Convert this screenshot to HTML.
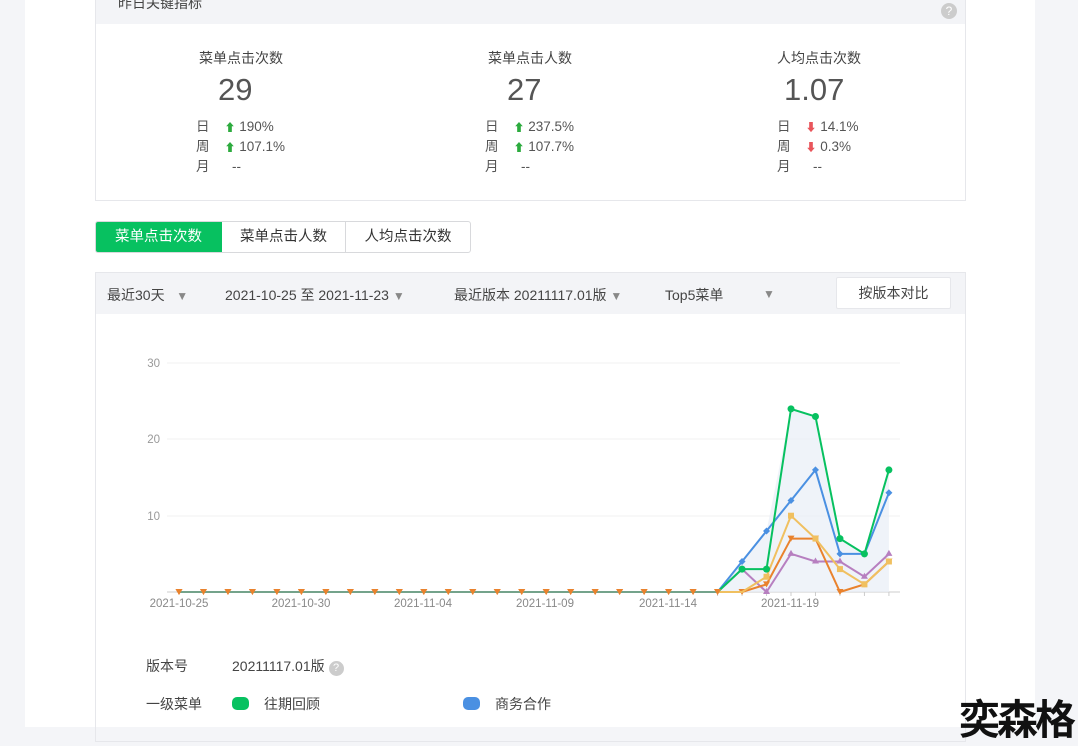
<!DOCTYPE html>
<html><head><meta charset="utf-8">
<style>
*{margin:0;padding:0;box-sizing:border-box}
body{width:1078px;height:727px;overflow:hidden;background:#f4f5f8;font-family:"Liberation Sans","Noto Sans CJK SC",sans-serif;color:#333;position:relative}
.main{position:absolute;left:25px;top:0;width:1010px;height:727px;background:#fff}
.abs{position:absolute;white-space:nowrap}
.card{position:absolute;left:95px;top:-2px;width:871px;height:203px;border:1px solid #e6e7eb}
.card .hd{height:25px;background:#f3f4f7}
.t{font-size:14px;color:#444}
.big{font-size:31px;color:#555}
.s{font-size:13.5px;color:#555;line-height:20px;height:20px}
.up{color:#2cab3e;font-size:11px}
.dn{color:#e9555b;font-size:11px}
.tabs{position:absolute;left:95px;top:221px;height:32px;border:1px solid #d8d9dc;border-radius:3px;display:flex;font-size:14.5px;overflow:hidden}
.tabs div{height:30px;line-height:30px;text-align:center;border-right:1px solid #d8d9dc;color:#333}
.panel{position:absolute;left:95px;top:272px;width:871px;height:470px;border:1px solid #e6e7eb}
.bar{height:41px;background:#f3f4f7;font-size:14px;color:#444;position:relative}
.tri{color:#888;font-size:12px}
</style></head><body>
<div class="main"></div>
<div class="card"><div class="hd"><span class="abs" style="left:22px;top:-6px;font-size:14px;color:#444">昨日关键指标</span><span class="abs" style="right:8px;top:4px;width:16px;height:16px;border-radius:8px;background:#ccc;color:#fff;font-size:12px;text-align:center;line-height:16px">?</span></div></div>
<div class="abs t" style="left:199px;top:48px">菜单点击次数</div>
<div class="abs big" style="left:218px;top:72px">29</div>
<div class="abs s" style="left:196px;top:117px">日&nbsp;&nbsp;&nbsp;&nbsp;<span class="up">⬆</span> 190%</div>
<div class="abs s" style="left:196px;top:137px">周&nbsp;&nbsp;&nbsp;&nbsp;<span class="up">⬆</span> 107.1%</div>
<div class="abs s" style="left:196px;top:157px">月&nbsp;&nbsp;&nbsp;&nbsp;&nbsp;&nbsp;--</div>
<div class="abs t" style="left:488px;top:48px">菜单点击人数</div>
<div class="abs big" style="left:507px;top:72px">27</div>
<div class="abs s" style="left:485px;top:117px">日&nbsp;&nbsp;&nbsp;&nbsp;<span class="up">⬆</span> 237.5%</div>
<div class="abs s" style="left:485px;top:137px">周&nbsp;&nbsp;&nbsp;&nbsp;<span class="up">⬆</span> 107.7%</div>
<div class="abs s" style="left:485px;top:157px">月&nbsp;&nbsp;&nbsp;&nbsp;&nbsp;&nbsp;--</div>
<div class="abs t" style="left:777px;top:48px">人均点击次数</div>
<div class="abs big" style="left:784px;top:72px">1.07</div>
<div class="abs s" style="left:777px;top:117px">日&nbsp;&nbsp;&nbsp;&nbsp;<span class="dn">⬇</span> 14.1%</div>
<div class="abs s" style="left:777px;top:137px">周&nbsp;&nbsp;&nbsp;&nbsp;<span class="dn">⬇</span> 0.3%</div>
<div class="abs s" style="left:777px;top:157px">月&nbsp;&nbsp;&nbsp;&nbsp;&nbsp;&nbsp;--</div>
<div class="tabs"><div style="width:126px;background:#07c160;color:#fff;border-color:#07c160">菜单点击次数</div><div style="width:124px">菜单点击人数</div><div style="width:124px;border:none">人均点击次数</div></div>
<div class="panel"><div class="bar">
<span class="abs" style="left:11px;top:12px">最近30天 &nbsp;&nbsp;<span class="tri">▼</span></span>
<span class="abs" style="left:129px;top:12px">2021-10-25 至 2021-11-23 <span class="tri">▼</span></span>
<span class="abs" style="left:358px;top:12px">最近版本 20211117.01版 <span class="tri">▼</span></span>
<span class="abs" style="left:569px;top:12px">Top5菜单</span><span class="abs tri" style="left:667px;top:14px">▼</span>
<span class="abs" style="left:740px;top:4px;width:115px;height:32px;background:#fff;border:1px solid #e6e7eb;border-radius:2px;text-align:center;line-height:30px">按版本对比</span>
</div></div>
<svg class="abs" style="left:0;top:0" width="1078" height="727" id="ch">
<g font-size="11.5" fill="#999" font-family="Liberation Sans,sans-serif">
<text x="160" y="367" text-anchor="end">30</text><text x="160" y="443" text-anchor="end">20</text><text x="160" y="520" text-anchor="end">10</text>
<g text-anchor="middle" fill="#888"><text x="179" y="607">2021-10-25</text><text x="301" y="607">2021-10-30</text><text x="423" y="607">2021-11-04</text><text x="545" y="607">2021-11-09</text><text x="668" y="607">2021-11-14</text><text x="790" y="607">2021-11-19</text></g>
</g>
</svg>
<div class="abs" style="left:146px;top:656px;font-size:14px;color:#444">版本号</div>
<div class="abs" style="left:232px;top:656px;font-size:14px;color:#444">20211117.01版 <span style="display:inline-block;width:15px;height:15px;border-radius:8px;background:#ccc;color:#fff;font-size:11px;text-align:center;line-height:15px">?</span></div>
<div class="abs" style="left:146px;top:694px;font-size:14px;color:#444">一级菜单</div>
<div class="abs" style="left:232px;top:697px;width:17px;height:13px;border-radius:5px;background:#07c160"></div>
<div class="abs" style="left:264px;top:694px;font-size:14px;color:#444">往期回顾</div>
<div class="abs" style="left:463px;top:697px;width:17px;height:13px;border-radius:5px;background:#4a90e2"></div>
<div class="abs" style="left:495px;top:694px;font-size:14px;color:#444">商务合作</div>
<div class="abs" style="left:959px;top:686px;font-size:41px;font-weight:bold;color:#111;letter-spacing:-3px">奕森格</div>
<script>
var s=document.getElementById('ch'),NS='http://www.w3.org/2000/svg';
function el(n,a){var e=document.createElementNS(NS,n);for(var k in a)e.setAttribute(k,a[k]);s.appendChild(e);return e}
[363,439,516].forEach(function(y){el('line',{x1:167,x2:900,y1:y,y2:y,stroke:'#f0f0f0'})});
el('line',{x1:167,x2:900,y1:592,y2:592,stroke:'#ccc'});
function X(i){return 179+24.48*i}function Y(v){return 592-7.63*v}
var tail={g:[3,3,24,23,7,5,16],b:[4,8,12,16,5,5,13],y:[0,2,10,7,3,1,4],o:[0,1,7,7,0,1,4],p:[3,0,5,4,4,2,5]};
function full(a){var r=[];for(var i=0;i<23;i++)r.push(0);return r.concat(a)}
var env=[];for(var i=0;i<7;i++)env.push(Math.max(tail.g[i],tail.b[i]));
var pts='717.6,592 ';env.forEach(function(v,i){pts+=X(23+i)+','+Y(v)+' '});pts+=X(29)+',592';
el('polygon',{points:pts,fill:'#e8eef7',opacity:0.7});
for(i=22;i<30;i++)el('line',{x1:X(i),x2:X(i),y1:592,y2:596,stroke:'#ccc'});
var cols={p:'#b77fc0',o:'#e9822d',y:'#f0c060',b:'#4a90e2',g:'#07c160'};
['p','o','y','b','g'].forEach(function(k){var d=full(tail[k]),p='';d.forEach(function(v,i){p+=X(i)+','+Y(v)+' '});
el('polyline',{points:p,fill:'none',stroke:cols[k],'stroke-width':2});
d.forEach(function(v,i){var x=X(i),y=Y(v);
if(k=='g'&&i>22)el('circle',{cx:x,cy:y,r:3.5,fill:cols.g});
if(k=='b'&&i>22)el('polygon',{points:(x)+','+(y-3.5)+' '+(x+3.5)+','+y+' '+x+','+(y+3.5)+' '+(x-3.5)+','+y,fill:cols.b});
if(k=='y'&&i>22&&v>0)el('rect',{x:x-3,y:y-3,width:6,height:6,fill:cols.y});
if(k=='p'&&i>22)el('polygon',{points:x+','+(y-4)+' '+(x+3.5)+','+(y+2)+' '+(x-3.5)+','+(y+2),fill:cols.p});
if(k=='o')el('polygon',{points:(x-3.5)+','+(y-3)+' '+(x+3.5)+','+(y-3)+' '+x+','+(y+3),fill:cols.o});
});});
el('line',{x1:179,x2:717,y1:592,y2:592,stroke:'#999','stroke-width':1.5});
for(i=0;i<23;i++){var x=X(i);el('polygon',{points:(x-3.5)+','+589+' '+(x+3.5)+','+589+' '+x+','+595,fill:cols.o})}
</script>
</body></html>
